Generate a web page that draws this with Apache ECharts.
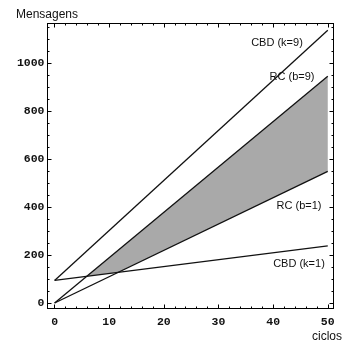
<!DOCTYPE html>
<html>
<head>
<meta charset="utf-8">
<script src="https://cdn.jsdelivr.net/npm/echarts@6/dist/echarts.min.js"></script>
<style>
html,body{margin:0;padding:0;background:#fff;}
#chart{width:342px;height:349px;}
</style>
</head>
<body>
<div id="chart"></div>
<script>
// ---- data ----
const ciclos = [0, 50];          // x at both ends of every line
const cbdK9 = [94, 1136];        // CBD (k=9)
const rcB9  = [0, 944];          // RC (b=9)
const rcB1  = [0, 548];          // RC (b=1)
const cbdK1 = [94, 238];         // CBD (k=1)
const xTickLabels = [0, 10, 20, 30, 40, 50];
const yTickLabels = [0, 200, 400, 600, 800, 1000];
const lineNames = ['CBD (k=9)', 'RC (b=9)', 'RC (b=1)', 'CBD (k=1)'];

// ---- derived ----
const lines = [cbdK9, rcB9, rcB1, cbdK1];
function slope(a){ return (a[1]-a[0])/(ciclos[1]-ciclos[0]); }
function at(a, x){ return a[0] + slope(a)*(x-ciclos[0]); }
function cross(a, b){ return ciclos[0] + (b[0]-a[0])/(slope(a)-slope(b)); }
const xA = cross(rcB9, cbdK1);
const xB = cross(rcB1, cbdK1);
const fillPoly = [
  [xA, at(rcB9, xA)],
  [ciclos[1], rcB9[1]],
  [ciclos[1], rcB1[1]],
  [xB, at(rcB1, xB)]
];
const xMinor = []; for (let v = 0; v <= 50; v += 2) xMinor.push(v);
const yMinor = []; for (let v = 0; v <= 1150; v += 50) yMinor.push(v);

const X_MIN = -1.3, X_MAX = 51.05, Y_MIN = -23, Y_MAX = 1164;
const black = '#000';
const tickFont = { fontFamily: 'Liberation Mono', fontWeight: 'bold', fontSize: 11.5, color: '#111',
  formatter: v => String(v) };

function xAx(pos, major, labels){
  return {
    type: 'value', min: X_MIN, max: X_MAX, position: pos,
    splitLine: { show: false },
    axisLine: { show: major, onZero: false, lineStyle: { color: black, width: 1 } },
    axisTick: { show: true, inside: true, length: major ? 4 : 2,
      customValues: major ? xTickLabels : xMinor, lineStyle: { color: black, width: 1 } },
    axisLabel: { show: labels, customValues: xTickLabels, margin: 8, ...tickFont }
  };
}
function yAx(pos, major, labels){
  return {
    type: 'value', min: Y_MIN, max: Y_MAX, position: pos,
    splitLine: { show: false },
    axisLine: { show: major, onZero: false, lineStyle: { color: black, width: 1 } },
    axisTick: { show: true, inside: true, length: major ? 4 : 2,
      customValues: major ? yTickLabels : yMinor, lineStyle: { color: black, width: 1 } },
    axisLabel: { show: labels, customValues: yTickLabels, margin: 3, ...tickFont }
  };
}

const lineSeries = lines.map((arr, i) => ({
  type: 'line', name: lineNames[i], xAxisIndex: 0, yAxisIndex: 0,
  data: ciclos.map((x, j) => [x, arr[j]]),
  symbol: 'none', z: 5, animation: false,
  lineStyle: { color: '#111', width: 1.3 }
}));

const chart = echarts.init(document.getElementById('chart'), null, { renderer: 'canvas' });
chart.setOption({
  animation: false,
  backgroundColor: '#fff',
  grid: { left: 47.5, right: 8.5, top: 23.5, bottom: 40.5, containLabel: false },
  xAxis: [ xAx('bottom', true, true), xAx('bottom', false, false), xAx('top', true, false), xAx('top', false, false) ],
  yAxis: [ yAx('left', true, true), yAx('left', false, false), yAx('right', true, false), yAx('right', false, false) ],
  series: [
    {
      type: 'custom', xAxisIndex: 0, yAxisIndex: 0, z: 2,
      data: fillPoly, encode: { x: 0, y: 1 },
      renderItem: function(params, api){
        if (params.dataIndex !== 0) return null;
        return { type: 'polygon', shape: { points: fillPoly.map(p => api.coord(p)) },
                 style: { fill: '#a9a9a9', stroke: null } };
      }
    },
    ...lineSeries
  ],
  graphic: [
    { type: 'text', x: 16, y: 15, style: { text: 'Mensagens', font: '12px "Liberation Sans"', fill: '#111', textAlign: 'left', textVerticalAlign: 'middle' } },
    { type: 'text', x: 327, y: 337, style: { text: 'ciclos', font: '12px "Liberation Sans"', fill: '#111', textAlign: 'center', textVerticalAlign: 'middle' } },
    { type: 'text', x: 277, y: 43, z: 10, style: { text: lineNames[0], font: '11px "Liberation Sans"', fill: '#111', textAlign: 'center', textVerticalAlign: 'middle' } },
    { type: 'text', x: 292, y: 77, z: 10, style: { text: lineNames[1], font: '11px "Liberation Sans"', fill: '#111', textAlign: 'center', textVerticalAlign: 'middle' } },
    { type: 'text', x: 299, y: 206, z: 10, style: { text: lineNames[2], font: '11px "Liberation Sans"', fill: '#111', textAlign: 'center', textVerticalAlign: 'middle' } },
    { type: 'text', x: 299, y: 264, z: 10, style: { text: lineNames[3], font: '11px "Liberation Sans"', fill: '#111', textAlign: 'center', textVerticalAlign: 'middle' } }
  ]
});
</script>
</body>
</html>
